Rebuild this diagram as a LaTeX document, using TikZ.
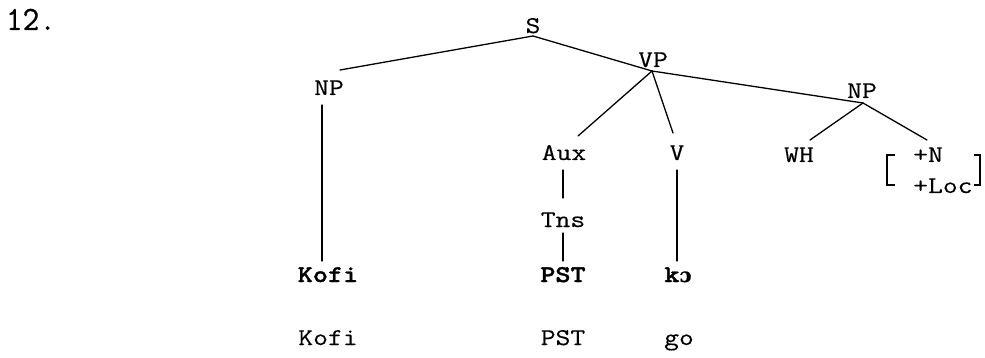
\documentclass[tikz,border=0pt]{standalone}
\usepackage{fontspec}
\newfontfamily\tw{Latin Modern Mono}[FakeStretch=1.2,FakeBold=0.3]
\newfontfamily\twb{lmmonolt10-bold}[Extension=.otf,FakeStretch=1.2,FakeBold=1.5]
\newfontfamily\twnum{Latin Modern Mono}[FakeStretch=0.95,FakeBold=0.6]
\newfontfamily\ipab{DejaVu Serif}[FakeBold=0.5]
\begin{document}
\begin{tikzpicture}[x=1pt,y=-1pt,
  lbl/.style={anchor=base,inner sep=0pt,font=\tw\fontsize{24}{28}\selectfont},
  lblb/.style={anchor=base,inner sep=0pt,font=\twb\fontsize{24}{28}\selectfont},
  feat/.style={anchor=base west,inner sep=0pt,font=\tw\fontsize{24}{28}\selectfont},
  branch/.style={line width=1.3pt,line cap=round},
  brk/.style={line width=1.3pt}]
\useasboundingbox (0,0) rectangle (985,358);
% example number
\node[anchor=base,inner sep=0pt,font=\twnum\fontsize{34}{36}\selectfont] (num) at (31,30) {12.};
% labels
\node[lbl] (S) at (533,33) {S};
\node[lbl] (VP) at (653,67) {VP};
\node[lbl] (NPa) at (329,95) {NP};
\node[lbl] (NPb) at (862,98) {NP};
\node[lbl] (Aux) at (564,160) {Aux};
\node[lbl] (V) at (677,160) {V};
\node[lbl] (WH) at (799,162) {WH};
\node[feat] (N) at (913,162) {+N};
\node[feat] (Loc) at (913,193) {+Loc};
\node[lbl] (Tns) at (563,227) {Tns};
\node[lblb] (Kofib) at (328,282) {Kofi};
\node[lblb] (PSTb) at (563,282) {PST};
\node[lblb] (ko) at (678,282) {k{\ipab\fontsize{20}{24}\selectfont\bfseries ɔ}};
\node[lbl] (Kofi) at (328,345) {Kofi};
\node[lbl] (PST) at (563,345) {PST};
\node[lbl] (go) at (679,345) {go};
% junction and end coordinates
\coordinate (sj) at (533,36);
\coordinate (npat) at (340,70);
\coordinate (vpj) at (652,71);
\coordinate (npbj) at (863,103);
\coordinate (auxt) at (578,136);
\coordinate (vt) at (673,133);
\coordinate (auxb) at (563,170);
\coordinate (tnst) at (563,198);
\coordinate (tnsb) at (563,233);
\coordinate (pstt) at (563,261);
\coordinate (vb) at (677,170);
\coordinate (kot) at (677,261);
\coordinate (npab) at (322,105);
\coordinate (kofit) at (322,261);
\coordinate (wht) at (810,140);
\coordinate (nt) at (927,140);
% branches
\draw[branch] (sj) -- (npat);
\draw[branch] (sj) -- (vpj);
\draw[branch] (vpj) -- (npbj);
\draw[branch] (vpj) -- (auxt);
\draw[branch] (vpj) -- (vt);
\draw[branch] (auxb) -- (tnst);
\draw[branch] (tnsb) -- (pstt);
\draw[branch] (vb) -- (kot);
\draw[branch] (npab) -- (kofit);
\draw[branch] (npbj) -- (wht);
\draw[branch] (npbj) -- (nt);
% feature brackets
\draw[brk] (895,155) -- (887,155) -- (887,185) -- (895,185);
\draw[brk] (974,155) -- (980,155) -- (980,185) -- (974,185);
\end{tikzpicture}
\end{document}
